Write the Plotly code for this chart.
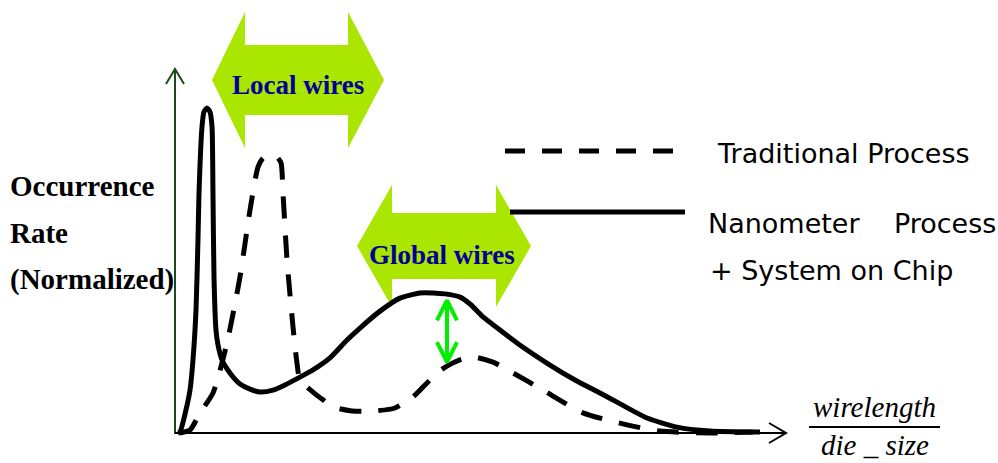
import plotly.graph_objects as go
import numpy as np

# ---------------- data (x: relative wirelength 0..100, y: normalized occurrence rate) -------------
nano_x = [0, 0.33, 1.33, 2.0, 2.5, 3.0, 3.33, 3.5, 4.0, 4.33, 4.83, 5.33, 5.67, 5.83, 6.0, 6.33,
          6.67, 7.33, 8.17, 9.33, 10.33, 12.0, 13.67, 15.83, 17.83, 20.33, 22.5, 25.33, 28.17,
          30.33, 33.67, 37.0, 40.33, 42.5, 44.5, 47.0, 48.67, 50.83, 53.67, 56.5, 62.0,
          66.17, 70.33, 73.17, 75.83, 78.17, 83.17, 88.67, 97.0]
nano_y = [0, 0.003, 0.071, 0.132, 0.225, 0.378, 0.594, 0.738, 0.942, 0.988, 1.0, 0.988, 0.942,
          0.738, 0.48, 0.317, 0.271, 0.225, 0.197, 0.169, 0.151, 0.135, 0.126, 0.132, 0.148,
          0.172, 0.194, 0.231, 0.286, 0.323, 0.375, 0.415, 0.431, 0.431, 0.428, 0.418, 0.397,
          0.357, 0.317, 0.277, 0.209, 0.163, 0.123, 0.095, 0.068, 0.046, 0.018, 0.006, 0.003]

trad_x = [0.33, 2.0, 3.67, 5.83, 8.17, 10.33, 12.0, 13.33, 14.17, 15.33, 16.5, 17.17, 17.5,
          18.17, 19.17, 19.83, 20.33, 22.5, 24.17, 25.83, 29.0, 32.83, 36.17, 39.17, 41.5,
          43.17, 44.83, 47.0, 49.17, 52.5, 55.83, 60.83, 67.5, 74.83, 80.33, 88.67, 95.83]
trad_y = [0, 0.009, 0.062, 0.123, 0.277, 0.48, 0.686, 0.818, 0.846, 0.855, 0.849, 0.831, 0.738,
          0.532, 0.326, 0.215, 0.163, 0.126, 0.102, 0.08, 0.068, 0.068, 0.077, 0.111, 0.154,
          0.185, 0.206, 0.225, 0.234, 0.218, 0.185, 0.132, 0.062, 0.025, 0.006, 0.0, 0.003]

gap_x = 44.83  # position of the green difference arrow

legend_labels = ["Traditional Process", "Nanometer    Process", "+ System on Chip"]
y_label_lines = ["Occurrence", "Rate", "(Normalized)"]
band_labels = ["Local wires", "Global wires"]
x_label_num, x_label_den = "wirelength", "die _ size"

# ---------------- geometry helpers ----------------
W, H = 998, 463
OX, OY = 178, 433          # pixel position of data origin
SX, SY = 6.0, 325.0        # pixels per data unit
x_range = [-OX / SX, (W - OX) / SX]
y_range = [-(H - OY) / SY, OY / SY]


def P(px, py):
    return px / W, 1 - py / H


def ppath(pts):
    s = ""
    for i, (px, py) in enumerate(pts):
        x, y = P(px, py)
        s += ("M" if i == 0 else "L") + f"{x:.5f},{y:.5f} "
    return s


fig = go.Figure()

fig.add_trace(go.Scatter(x=trad_x, y=trad_y, mode="lines",
                         line=dict(color="black", width=5, dash="22px,17px",
                                   shape="spline", smoothing=0.6),
                         hoverinfo="skip", showlegend=False))
fig.add_trace(go.Scatter(x=nano_x, y=nano_y, mode="lines",
                         line=dict(color="black", width=5, shape="spline", smoothing=0.6),
                         hoverinfo="skip", showlegend=False))

# green difference arrow, derived from the two series
y_top = float(np.interp(gap_x, nano_x, nano_y)) - 6 / SY
y_bot = float(np.interp(gap_x, trad_x, trad_y)) + 4 / SY
hx, hy = 10 / SX, 20 / SY
green = "#00EE00"
fig.add_trace(go.Scatter(x=[gap_x, gap_x], y=[y_top, y_bot], mode="lines",
                         line=dict(color=green, width=4), hoverinfo="skip", showlegend=False))
fig.add_trace(go.Scatter(x=[gap_x - hx, gap_x, gap_x + hx], y=[y_top - hy, y_top, y_top - hy],
                         mode="lines", line=dict(color=green, width=4),
                         hoverinfo="skip", showlegend=False))
fig.add_trace(go.Scatter(x=[gap_x - hx, gap_x, gap_x + hx], y=[y_bot + hy, y_bot, y_bot + hy],
                         mode="lines", line=dict(color=green, width=4),
                         hoverinfo="skip", showlegend=False))

shapes = []
lime = "#AAE600"


def dbl_arrow(xl, xbl, xbr, xr, yc, hh, sh):
    pts = [(xl, yc), (xbl, yc - hh), (xbl, yc - sh), (xbr, yc - sh), (xbr, yc - hh), (xr, yc),
           (xbr, yc + hh), (xbr, yc + sh), (xbl, yc + sh), (xbl, yc + hh)]
    return dict(type="path", path=ppath(pts) + "Z", xref="paper", yref="paper",
                fillcolor=lime, line=dict(width=0), layer="below")


shapes.append(dbl_arrow(212, 245, 348, 384, 80, 68, 35))
shapes.append(dbl_arrow(357, 392, 496, 531, 246, 61, 33))

# axes
axis_green = "#1B4D1B"
shapes.append(dict(type="path", path=ppath([(175, 434), (175, 69)]), xref="paper", yref="paper",
                   line=dict(color=axis_green, width=2)))
shapes.append(dict(type="path", path=ppath([(166, 84), (175, 69), (184, 84)]), xref="paper",
                   yref="paper", line=dict(color=axis_green, width=2)))
shapes.append(dict(type="path", path=ppath([(175, 433), (786, 433)]), xref="paper", yref="paper",
                   line=dict(color="black", width=2)))
shapes.append(dict(type="path", path=ppath([(769, 423), (786, 433), (769, 443)]), xref="paper",
                   yref="paper", line=dict(color="black", width=2)))

# legend samples
shapes.append(dict(type="path", path=ppath([(505, 151), (676, 151)]), xref="paper", yref="paper",
                   line=dict(color="black", width=5, dash="20px,17px")))
shapes.append(dict(type="path", path=ppath([(510, 212), (685, 212)]), xref="paper", yref="paper",
                   line=dict(color="black", width=5)))

# x label fraction bar
shapes.append(dict(type="path", path=ppath([(809, 427), (940, 427)]), xref="paper", yref="paper",
                   line=dict(color="black", width=2)))

ann = []


def text(px, py, t, size, family, color="black", xanchor="left"):
    x, y = P(px, py)
    ann.append(dict(x=x, y=y, xref="paper", yref="paper", text=t, showarrow=False,
                    xanchor=xanchor, yanchor="middle",
                    font=dict(size=size, family=family, color=color)))


sans = "DejaVu Sans"
serif = "Liberation Serif"
text(715, 153, legend_labels[0], 27, sans)
text(706, 223, legend_labels[1], 27, sans)
text(708, 270, legend_labels[2], 27, sans)
for t, py in zip(y_label_lines, [186, 233, 279]):
    text(8, py, "<b>" + t + "</b>", 29, serif)
text(298, 85, "<b>" + band_labels[0] + "</b>", 27, serif, color="#000099", xanchor="center")
text(442, 255, "<b>" + band_labels[1] + "</b>", 27, serif, color="#000099", xanchor="center")
text(874, 407, "<i>" + x_label_num + "</i>", 29, serif, xanchor="center")
text(875, 445, "<i>" + x_label_den + "</i>", 29, serif, xanchor="center")

fig.update_layout(
    width=W, height=H, margin=dict(l=0, r=0, t=0, b=0),
    paper_bgcolor="white", plot_bgcolor="white",
    xaxis=dict(range=x_range, visible=False, fixedrange=True),
    yaxis=dict(range=y_range, visible=False, fixedrange=True),
    shapes=shapes, annotations=ann, showlegend=False,
)

fig.write_html("out.html", config={"displayModeBar": False},
               post_script="document.body.style.margin='0';document.body.style.overflow='hidden';")
